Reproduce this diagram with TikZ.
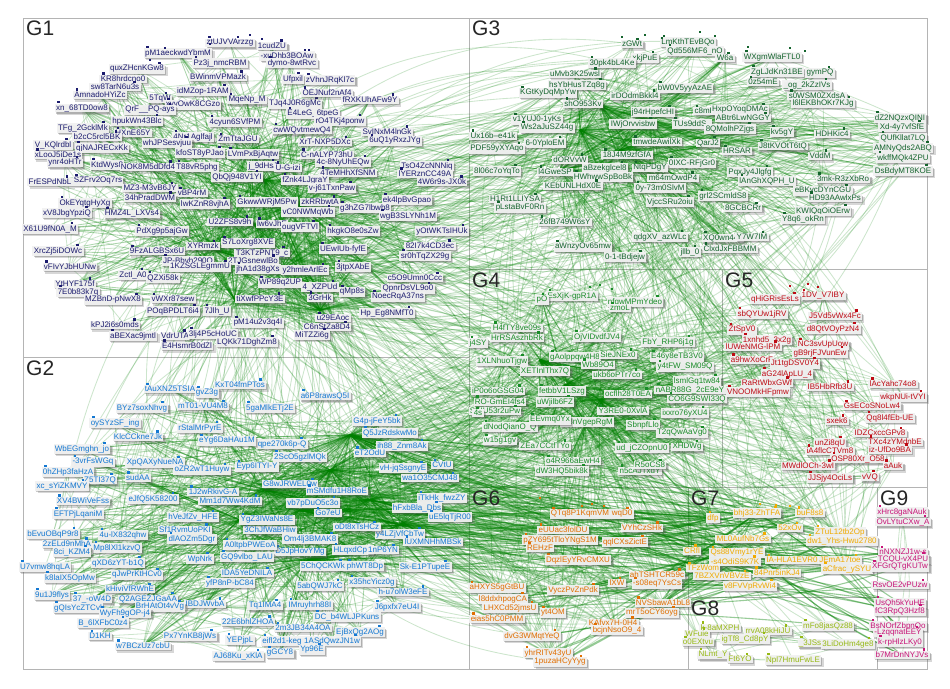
\documentclass[tikz,border=0pt]{standalone}
\usepackage{fontspec}
\setmainfont{Liberation Sans}
\usetikzlibrary{shadows,arrows.meta}
\definecolor{c1}{RGB}{27,27,110}
\definecolor{c2}{RGB}{20,120,210}
\definecolor{c3}{RGB}{20,100,45}
\definecolor{c4}{RGB}{25,140,40}
\definecolor{c5}{RGB}{190,10,20}
\definecolor{c6}{RGB}{225,110,0}
\definecolor{c7}{RGB}{240,170,0}
\definecolor{c8}{RGB}{150,185,20}
\definecolor{c9}{RGB}{200,20,120}
\definecolor{eg}{RGB}{0,128,0}
\definecolor{boxgray}{RGB}{180,180,180}

\def\GoneList{ztUJVVArzzg/230/43, 1cudZU/272/46, pM1aeckwdYbmM/178/53, -xuDhb3BQAw/287/56, dymo-8wtRvc/292/63, quxZHcnKGw8/137/69, Pz3j\_nmcRBM/220/63, BWinmVPMazk/218/77, KR8hrdcno0/123/79, Ufpxil/293/79, zVhnJRqKl7c/330/80, sw8TarN6u3s/115/87, AmnadoHYiZc/100/95, idMZop-1RAM/203/91, MqeNp\_M/247/100, 5TqW/160/99, xyvOwK8CGzo/193/105, TJq4J0R6gMc/295/104, OEJNuf2nAf4/327/93, fRXKUhAFw9Y/370/100, xn\_68TD0ow8/82/108, QrF\_\_PQ-ays/150/110, E4LeG\_6tpeG/313/114, hpukWn43Blc/137/121, 4cyun6SVfPM/235/122, rO4TKj4ponw/340/121, cwWQvtmewQ4/302/130, SvINxM4lnGk/387/132, 6uQ1yRxzJYg/395/141, TFg\_2GcklMk/83/128, HXnE65Y/133/133, b2cC5rcl5BK/97/137, 4Nr1Aglfajl/193/137, V\_KQlrdbl/53/145, qjNAJRECxKk/102/148, whJPSesvjuu/167/143, ZmTtaJGU/238/139, XrT-NXP5DXc/325/142, C-nALYP73hU/327/155, 4c-8NyUhEQw/343/162, 4TeMHhXfSNM/348/173, TsO4ZcNNNiq/427/166, lYERznCC49A/425/174, 4W6r9s-JX0k/442/182, xLooJ5iDe1s/58/155, kfoST8yPJao/200/153, LVmPxBjAqtw/253/154, ynr4oHTr/65/163, KtdWys8/107/165, NOK8M5dDfd4/148/167, T88vR5phg/197/167, j\_9dHsJ/263/166, U-G-izi/288/168, FrESPdNbL/50/182, SZFrv2Oq7rs/98/181, QbQj948V1YI/237/177, fZnk4LJgraY/305/180, v-j61TxnPaw/332/188, ek4lpBvGpao/407/200, MZ3-M3vB6JY/150/188, vBP4rM/192/193, 34hPradDWM/150/198, OkEYqtgHyXg/85/203, lwKZnR8vjhA/205/204, GkwwWRjM5Pw/267/202, zkRRbwtA/320/202, g3hZG7lbwh8/365/208, vC0NWMqWb/308/212, wgB3SLYNh1M/408/216, xV8JbgYpziQ/67/213, HMZ4L\_LXVs4/132/214, X61U9fN0A\_M/50/229, PdXg9p5ajGw/162/231, U2ZFS8v9h/230/222, lw6vJhE/272/224, ougVFTVl/300/227, hkgkO8e0sZw/353/231, yOtWKTsIHUk/442/231, S7LoXrg8XVE/248/243, XrcZj5iDOWc/58/251, 9FzALGBSx6U/157/251, XYRmzk/203/246, UEwIUb-fyfE/343/249, 82I7k4CD3ec/430/246, sr0hTqZX29g/425/256, T3KTzPNT9\_c/262/253, JP-Bbvh290Q/188/261, 2TJGsnewlBo/253/261, vFIvYJbHUNw/70/267, 1KZSGLEgmmU/200/267, jhA1d38gXs/258/269, y2hmleArlEc/305/270, 3jtpXAbE/353/267, Zctl\_A0/133/275, QZXi58k/163/278, YtHYF175f/75/284, WP89q2UP/280/283, c5O9Umn0Ccc/415/278, 7E0b83k7q/78/292, 4\_XZPUd/320/287, qMp8s/352/292, QpnrDsVL9o0/408/289, NoecRqA37ns/398/297, MZBnD-pNwX8/113/300, vWXr87sew/173/299, tiXwfPPcY3E/260/299, 3GrHk/320/298, POqBPDLT6i4/173/311, 7Jlh\_U/217/311, Hp\_Eg8NMfT0/387/313, pM14u2v3q4I/258/323, kPJ2i6s0mds/115/325, u29EAoc/333/318, C6nStZa8D4/327/327, aBEXac9jmtl/133/336, VdrUTA/175/336, 3lj4P5cHoUC/213/334, LQKk71DghZm8/247/342, E4HsmrB0dZl/187/346, MiTZZi6g/312/335}

\def\GtwoList{tAuXNZ5TSIA/170/389, KxT04fmPTos/240/385, gvZ3g/207/393, BYz7soxNhvg/142/408, 5gaMlkETj2E/270/408, mT01-VU4M8/203/406, oySYzSF\_ing/115/423, rStalMrPyrE/200/428, a6P8rawsQ5I/325/396, G4p-jFeY5bk/377/421, Q5JzRdskwMo/390/433, ih88\_Znm8Ak/402/446, eT2OdU/370/453, vH-jqSsgnyE/403/468, CVtU/442/465, wa1O35CMJ48/430/478, iTkHk\_fwzZY/442/498, hFxbBla\_Dbs/417/508, uE5lqTjR00/450/517, y4LZjVfCbTw/400/534, lUXMNHhMBSk/433/542, Sk-E1PTupeE/425/567, x35hcYicz0g/372/582, h-u7olW3eFE/403/592, J6pxfx7eU4I/397/607, qpe270k6p-Q/282/444, 2ScO5gzlMQk/300/457, G8wJRWEL0w/290/484, mSMdfu1H8RoE/337/491, vb7pDuO5c3o/313/503, Go7eU/328/513, oDt8xTsHCz/357/527, 3ChJfWaBHiw/270/530, Om4lj3BMAK8/310/539, HLqxdCpE/353/550, 1nP6YN/383/550, D5JpHovYMg/300/552, 5ChQCKWk/323/566, phWT8Dp/365/566, 5abQWJ7kC/320/586, IMruyhrh88I/310/605, Tq1IMA4/265/606, DC\_b4WLJPKuns/347/617, 22E6bhlZHOA/248/622, 2m3JB34A4OA/303/628, EjBxQg2AOg/360/632, eifl2d1-keg/282/641, 1ASdQwzJN1w/332/641, YEPjpL/240/640, Yp96E/312/650, gGCY8/280/653, KlcCCkne7Jk/138/437, eYg6DaHAu1M/227/441, WbEGmghn\_jo/82/449, -3vrFsWGq/93/462, XpQAXyNueNA/155/463, 0hZHp3faHzA/68/472, oZR2wT1Huyw/202/470, Eyp6ITYI-Y/257/467, Z5TI37Q/100/480, sudAA/138/478, xc\_sYiZKMVY/62/486, 1J2wRkivG-A/213/492, eJfQ5K58200/153/499, XV4BWiVeFss/83/501, Mm1d7Ww4KdM/230/501, EFTPjLqaniM/78/514, hVeJfZv\_HFE/193/517, YgZ3IWaNs8E/267/520, bEvuOBqP9r8/53/534, 4u-lX832qhw/123/535, Sf1RvmUoPKI/185/530, dlAOZm5Dgr/192/539, 2zELd9nMhA/67/544, Mp8lXl1kzvQ/117/548, 8ci\_KZM4/72/552, A0ltpbPWEoA/250/545, qXD6zYT-b1Q/118/563, GQ9vlbo\_LAU/247/557, WpNrk/200/559, U7vmw8hqLA/45/567, qJwPrKtHCv0/137/575, k8laIX5OpMw/70/578, IDA5YeDNILA/247/573, yfP8nP-bC84/230/583, kHiviVfRWhE/130/589, 9u1J9flys/52/595, Q2AGEZJGaAA/148/599, 37\_-oW4D/92/599, IBDJWvbA/205/604, gQIsYcZTCvl/78/608, BrHAtOt4vVg/160/607, WyFh9gOP-j4/125/613, B\_6lXFbC0z4/103/623, D1KH/100/636, Px7YnKB8jWs/190/636, w7BCzUz7cbU/143/646, AJ68Ku\_xKlA/238/656}

\def\GthreeList{LmKthTEvBQo/688/42, zGWt/632/44, Qd556MF6\_nO/695/51, xkjPuE/645/58, 30pk4bL4Ke/612/63, uMvb3K25wsl/575/74, bW0V5yyAzAE/685/88, hsYbHusTZq8g/577/85, KGtKyDqMpYw/548/93, irDOdmBkkl4/635/96, shO953Kv/583/104, j94rHpefcHI/653/112, c8mH/705/111, HxpOYoqDMAc/740/110, v1YUJ0-1yKs/537/120, ABtr6LwNGGY/743/118, Ws2aJuSZ44g/547/128, IWjOrvvisbw/633/124, TUs9ddS\_/692/124, 8QMolhPZjgs/730/129, Ux16b--e41k/493/136, 6-0YploEM/545/143, tmwdeAwilXk/657/142, QarJ2/708/143, HRSAR/737/151, PDF59yXYAqo/497/149, 18J4M9zfGfA/627/155, dORVvW/570/160, 0IXC-RFjGr0/692/163, aBzekglcel8/605/168, NtqPDgY/650/168, 8l06c7oYqTo/497/171, l4GweSP/555/172, PqxJy4Jlgfg/750/172, HWhwwSpBoBk/603/177, m64mOwdP4/673/178, lAnGhXQPH\_U/767/181, KEbUNLHdX0E/573/186, 0y-73m0SlvM/660/188, H1Rt1LLIYSA/515/199, grl2SCmldS8/723/196, VjccSRu2oiu/670/202, pLstaBvF0Rn/520/208, 8GCBCRr/743/208, 26fB749W6sY/565/222, qdgXV\_azWLc/660/237, XQ0wn440/723/238, Y7W7IM/752/237, aWnzyOv65mw/583/247, 0-1-tBdjejw/625/257, ClxdJxFBBMM/730/249, jllb\_0/690/252, WXgmWlaFTL0/772/57, W6a/725/58, ZgLJdKn31BE/777/72, gymPQ/820/73, 0z54mE/763/82, \_og\_2kZzIVs/807/85, s0WSM0ZXdsA/817/96, l6lEKBhOKr7KJg/823/103, dZ2NQzxQINI/900/118, Xd-4y7vfSfE/902/127, QUfKllat7LQ/903/138, AMNyQds2ABQ/903/148, wkffMQk4ZPU/903/158, DsBdyMT8KOE/903/171, J8tKVOtT6tQ/783/146, HDHKic4/832/134, kv5gY/782/132, VddM/820/156, 3mk-R3zXbRo/843/179, eBKycDYnCGU/823/191, HD93AAwlxPs/835/198, KWIQqOiOErw/823/211, Y8q6\_okRn/803/219}

\def\GfourList{EsXjK-gpR1A/572/296, nfqwMPmYdeo/635/302, zmoL/620/308, pO/542/300, H4fTY8ve09s/517/328, HrRSAszhbRk/517/338, OjVIDvdfJV4/597/337, FbY\_RHP6j1g/668/342, j4SY/478/343, 1XLNhuoTjgw/502/361, gAolppqw4H8/575/357, SieJNEx0/618/355, E46y8eTB3V0/677/357, XETInlThx7Q/545/371, Wb89O4/598/365, ukb6oPTr7co/617/375, y4tFW\_SM09Q/685/367, lsmlGq1tw84/697/381, fetbbV1LSzg/562/391, ocflh28T0EA/628/394, nABR88G\_2cE9eY/690/390, iP0o6oGSG04/498/391, RO-GmEI4fs4/500/402, uWjilb6FZ/555/402, CO6G9SWI33Q/697/399, SKIU53r2uPw/495/411, Y3RE0-0XvlA/623/411, ixxro76yXU4/685/413, lK8nVgepRgM/587/422, SbnpfLlo/643/425, dNodQianO\_Q/510/427, T2qQwAaVg0/682/433, w15g1gv/500/441, ZEa7CCtfTYo/545/446, ud\_jCZOpnU0/642/448, XHDWg/687/447, o4R966aEwH4/573/461, dW3HQ5bik8k/562/471, n5cAJTxdY/640/471, R5oCS8/650/465, EEvmq0Yx/550/420, 4s/478/413}

\def\GfiveList{1DV\_V7IBY/823/296, qHiGRisEsLs/775/299, sbQYUw1jRV/762/314, J5Vd5vWx4Fc/835/316, ZtSpV0/742/330, d8QtVOyPzN4/833/329, 1xnhd5\_3x2g/767/340, lUWeNMG-lPM/753/347, NC3svUpUow/823/345, gB9rjFJVunEw/820/353, a9hwXoCrF/752/360, Jt1tgDSV0Y4/795/364, aG24lApLU\_4/787/374, RaRtWbxGWf/767/383, VNOOMkHFpmw/758/392, IB5HbRfb3U/830/387, lAcYahc74o8/893/384, wkpNUi-tVYI/903/397, GsECoSNoLw4/872/406, sxek6/837/421, Qq8l4fEb-UE/890/418, IDZCxccGPv8/880/433, TXc4zYMdnbE/895/442, unZi8qU/830/443, iA4flcCTVm8/830/451, iz-UfDo9BA/890/450, OSP80Xr\_O58/858/459, MWdlOCh-3wI/808/466, JJSjy4OciLs/830/478, vVQ/870/477, aAuk/893/466}

\def\GsixList{QTq8P1KqmVM/580/514, wqD0/622/514, eUUac3folDU/563/530, VYhCzSHk/642/528, pZY695tTloYNgS1M/560/540, qqlCXsZictE/625/542, DqzlEyYRvCMXU/578/560, ahTSHTCR59c/657/575, -s08eq7YsCs/657/584, VyczPvZnPdk/573/590, aHXYS5gGtBU/497/588, l8ddxhpogCA/503/599, NVSbawA1bL8/663/603, LHXCd52jmsU/510/608, yt4OM/553/613, mrT5oCY6oyg/652/613, eias5hC0PMM/497/619, KAfvx7H-0H4/613/623, bcjnNsoO9\_4/617/630, dvG3WMqtYeQ/532/636, yhrRITv43yU/548/653, 1puzaHCyYyg/560/662, REHzF/540/548, lXW/617/583}

\def\GsevenList{dfp/713/518, bhj33-ZhTFA/757/513, buF8s8/810/513, 52xOv/790/528, ZTuL12tb2Op/840/532, ML0AufNb7Gs/743/539, dw1\_Yhs-Hwu2780/842/541, CRfl/692/551, Qs88Vmy1rYE/737/553, -s4OdiS9K7K/735/562, IA-HLA1EVR0/792/560, JEmA17toe/840/560, TFzWom/703/568, 7BZXVnVBVzE/722/576, 84Pnr5inKJ4/777/573, v8FVVpRvWi4/750/586, aCfrac\_ySYU/847/569}

\def\GeightList{k-8aMXPH/720/628, rrvA08kHiJU/768/631, mFo8jasQz88/828/626, WFuie/697/634, o0EXtvu/698/642, igTf8\_Cd8pY/745/639, \_3JSs/810/643, 3LiDoHm4ge8/848/644, NLmt\_Y/713/655, Ft6YO/740/659, Npl7HmuFwLE/793/660}

\def\GnineList{xHrc8gaNAuk/902/512, OvLYtuCXw\_A/903/522, nNXNZJ1w-s/903/552, TCQU-vX4PU/903/559, XFGrQTgKUTw/900/567, RsvOE2vPUzw/900/585, UsQh5kYuHE/900/603, fC3RpQ3Hzf8/900/611, BsNOrfZbpnQo/898/626, -LzqqnatEEY/898/633, k-rpHlzLKy0/900/642, b7MrDnNYJVs/902/655}

% hub points (centres of the dense edge bundles)
\def\HubA{255/225, 280/270, 235/300, 300/205, 215/250, 320/310, 265/180, 250/150}
\def\HubB{330/470, 300/510, 370/500, 265/490, 350/435, 400/525, 310/560, 240/520}
\def\HubC{580/130, 620/150, 560/170, 650/120, 600/105}
\def\HubD{565/385, 600/400, 585/425, 540/360}

\newcommand\placecoords[2]{%
  \foreach \t/\x/\y [count=\i] in #2 {\coordinate (#1-\i) at (\x,\y);
    \expandafter\xdef\csname N#1\endcsname{\i}}}

\newcommand\placehubs[2]{%
  \foreach \x/\y [count=\i] in #2 {\coordinate (#1-\i) at (\x,\y);
    \expandafter\xdef\csname N#1\endcsname{\i}}}

\newcommand\placelabels[3]{%
  \foreach \t/\x/\y [count=\i] in #2 {%
    \node[lab,text=#3] (#1-l\i) at (#1-\i) {\t};
    \ifodd\i
      \node[sq,fill=#3] (#1-s\i) at ([xshift=4pt,yshift=1.2pt]#1-l\i.north west) {};
    \else
      \node[sq,fill=#3] (#1-s\i) at ([xshift=-6pt,yshift=1.2pt]#1-l\i.north east) {};
    \fi}}

\newcommand\edgesbetween[5]{%
  \edef\na{\csname N#1\endcsname}\edef\nb{\csname N#2\endcsname}%
  \foreach \k in {1,...,#3}{%
    \pgfmathtruncatemacro\ea{random(1,\na)}%
    \pgfmathtruncatemacro\eb{random(1,\nb)}%
    \pgfmathtruncatemacro\eg{random(-#4,#4)}%
    \draw[#5] (#1-\ea) to[bend left=\eg] (#2-\eb);}}

\tikzset{
  lab/.style={font=\fontsize{8}{9}\selectfont, inner xsep=1.3pt, inner ysep=0.9pt,
    fill=white!95!black, fill opacity=0.95, text opacity=1,
    drop shadow={shadow xshift=2.4pt, shadow yshift=-2.8pt, opacity=0.22, fill=black!70},
    drop shadow={shadow xshift=1.2pt, shadow yshift=-1.5pt, opacity=0.35, fill=black!60}},
  sq/.style={minimum size=2.6pt, inner sep=0pt, draw=none},
  grp/.style={draw=boxgray, line width=0.8pt},
  gt/.style={font=\fontsize{21}{21}\selectfont, text=black!85, inner sep=0pt, anchor=north west},
  ein/.style={draw=eg, opacity=0.2, line width=0.8pt},
  ehub/.style={draw=eg, opacity=0.32, line width=0.85pt},
  ex/.style={draw=eg, opacity=0.2, line width=0.85pt, -{Stealth[length=4pt,width=3pt]}},
  exd/.style={draw=eg, opacity=0.4, line width=1.1pt, -{Stealth[length=4pt,width=3pt]}},
}

\begin{document}
\begin{tikzpicture}[x=1pt,y=-1pt]
\useasboundingbox (0,0) rectangle (950,688);
\fill[white] (0,0) rectangle (950,688);
\pgfmathsetseed{4242}

% group boxes
\draw[grp] (23,18) rectangle (469,357);
\draw[grp] (23,357) rectangle (469,669);
\draw[grp] (469,18) rectangle (927,269);
\draw[grp] (469,269) rectangle (722,487);
\draw[grp] (722,269) rectangle (927,487);
\draw[grp] (469,487) rectangle (688,669);
\draw[grp] (688,487) rectangle (877,597);
\draw[grp] (688,597) rectangle (877,669);
\draw[grp] (877,487) rectangle (927,669);

% vertex positions
\placecoords{ga}{\GoneList}
\placecoords{gb}{\GtwoList}
\placecoords{gc}{\GthreeList}
\placecoords{gd}{\GfourList}
\placecoords{ge}{\GfiveList}
\placecoords{gf}{\GsixList}
\placecoords{gg}{\GsevenList}
\placecoords{gh}{\GeightList}
\placecoords{gi}{\GnineList}
\placehubs{ha}{\HubA}
\placehubs{hb}{\HubB}
\placehubs{hc}{\HubC}
\placehubs{hd}{\HubD}

% edges within groups
\edgesbetween{ga}{ga}{300}{6}{ein}
\edgesbetween{gb}{gb}{300}{6}{ein}
\edgesbetween{ha}{ga}{420}{4}{ehub}
\edgesbetween{hb}{gb}{420}{4}{ehub}
\edgesbetween{gc}{gc}{200}{10}{ein}
\edgesbetween{hc}{gc}{220}{6}{ehub}
\edgesbetween{gd}{gd}{160}{10}{ein}
\edgesbetween{hd}{gd}{150}{6}{ehub}
\edgesbetween{ge}{ge}{40}{10}{ein}
\edgesbetween{gf}{gf}{70}{10}{ein}
\edgesbetween{gg}{gg}{35}{10}{ein}
\edgesbetween{gh}{gh}{14}{10}{ein}
\edgesbetween{gi}{gi}{8}{10}{ein}
% edges between groups
\edgesbetween{ha}{gc}{190}{35}{ex}
\edgesbetween{ha}{gd}{100}{35}{ex}
\edgesbetween{hb}{gd}{200}{40}{ex}
\edgesbetween{hb}{gf}{150}{25}{ex}
\edgesbetween{hb}{gg}{70}{12}{exd}
\edgesbetween{hd}{ge}{90}{30}{ex}
\edgesbetween{hc}{ge}{70}{30}{ex}
\edgesbetween{gc}{gd}{90}{30}{ex}
\edgesbetween{hd}{gg}{60}{25}{ex}
\edgesbetween{hd}{gf}{70}{25}{ex}
\edgesbetween{gf}{gg}{50}{12}{exd}
\edgesbetween{hc}{gg}{30}{15}{ex}
\edgesbetween{ge}{gg}{30}{20}{ex}
\edgesbetween{ha}{gb}{80}{30}{ex}
\edgesbetween{gg}{gi}{18}{10}{exd}
\edgesbetween{gf}{gi}{14}{10}{exd}
\edgesbetween{hd}{gh}{18}{20}{ex}
\edgesbetween{hb}{ge}{40}{30}{ex}
\edgesbetween{ha}{gf}{40}{30}{ex}

% labels
\placelabels{ga}{\GoneList}{c1}
\placelabels{gb}{\GtwoList}{c2}
\placelabels{gc}{\GthreeList}{c3}
\placelabels{gd}{\GfourList}{c4}
\placelabels{ge}{\GfiveList}{c5}
\placelabels{gf}{\GsixList}{c6}
\placelabels{gg}{\GsevenList}{c7}
\placelabels{gh}{\GeightList}{c8}
\placelabels{gi}{\GnineList}{c9}

% stray vertices
\foreach \px/\py [count=\j] in {165/48, 210/44, 238/37, 250/35, 262/39, 305/50, 150/60}
  \node[sq,fill=c1] (xa\j) at (\px,\py) {};
\foreach \px/\py [count=\j] in {622/37, 645/35, 662/38, 700/32, 715/36, 748/47, 790/48, 805/51}
  \node[sq,fill=c3] (xc\j) at (\px,\py) {};
\foreach \px/\py [count=\j] in {582/506, 592/504, 604/506, 540/498}
  \node[sq,fill=c6] (xf\j) at (\px,\py) {};
\foreach \px/\py [count=\j] in {760/504, 776/505, 790/506}
  \node[sq,fill=c7] (xg\j) at (\px,\py) {};
\foreach \px/\py [count=\j] in {790/286, 808/284, 818/287}
  \node[sq,fill=c5] (xe\j) at (\px,\py) {};
\foreach \px/\py [count=\j] in {590/287, 600/285, 612/289}
  \node[sq,fill=c4] (xd\j) at (\px,\py) {};

% group titles
\node[gt] (t1) at (26,21) {G1};
\node[gt] (t2) at (26,361) {G2};
\node[gt] (t3) at (472,21) {G3};
\node[gt] (t4) at (472,273) {G4};
\node[gt] (t5) at (725,273) {G5};
\node[gt] (t6) at (472,491) {G6};
\node[gt] (t7) at (691,491) {G7};
\node[gt] (t8) at (691,601) {G8};
\node[gt] (t9) at (880,491) {G9};
\end{tikzpicture}
\end{document}
